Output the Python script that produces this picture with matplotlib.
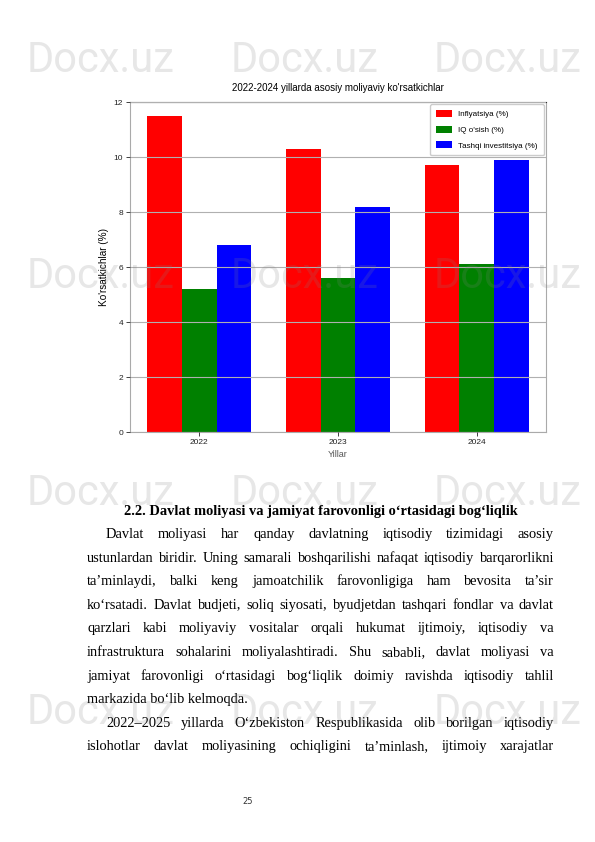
import matplotlib.pyplot as plt
import numpy as np

# --- data ---
years = ["2022", "2023", "2024"]
inflation = [11.5, 10.3, 9.7]
gdp_growth = [5.2, 5.6, 6.1]
foreign_inv = [6.8, 8.2, 9.9]
series_labels = ["Inflyatsiya (%)", "IQ o'sish (%)", "Tashqi investitsiya (%)"]
series_colors = ["red", "green", "blue"]
yticks = [0, 2, 4, 6, 8, 10, 12]

heading = "2.2. Davlat moliyasi va jamiyat farovonligi o‘rtasidagi bog‘liqlik"
body_lines = [
    ("Davlat moliyasi har qanday davlatning iqtisodiy tizimidagi asosiy", True, True),
    ("ustunlardan biridir. Uning samarali boshqarilishi nafaqat iqtisodiy barqarorlikni", False, True),
    ("ta’minlaydi, balki keng jamoatchilik farovonligiga ham bevosita ta’sir", False, True),
    ("ko‘rsatadi. Davlat budjeti, soliq siyosati, byudjetdan tashqari fondlar va davlat", False, True),
    ("qarzlari kabi moliyaviy vositalar orqali hukumat ijtimoiy, iqtisodiy va", False, True),
    ("infrastruktura sohalarini moliyalashtiradi. Shu sababli, davlat moliyasi va", False, True),
    ("jamiyat farovonligi o‘rtasidagi bog‘liqlik doimiy ravishda iqtisodiy tahlil", False, True),
    ("markazida bo‘lib kelmoqda.", False, False),
    ("2022–2025 yillarda O‘zbekiston Respublikasida olib borilgan iqtisodiy", True, True),
    ("islohotlar davlat moliyasining ochiqligini ta’minlash, ijtimoiy xarajatlar", False, True),
]
page_number = "25"

W, H = 595, 842
fig = plt.figure(figsize=(W / 100, H / 100), dpi=100)
sans = ["Liberation Sans", "DejaVu Sans"]

# --- chart ---
ax = fig.add_axes([130 / W, 1 - 432 / H, 416 / W, 330 / H])
x = np.arange(len(years))
bw = 0.25
for i, (vals, lab, col) in enumerate(zip([inflation, gdp_growth, foreign_inv], series_labels, series_colors)):
    ax.bar(x + (i - 1) * bw, vals, bw, color=col, label=lab)
ax.set_xlim(-0.5, 2.5)
ax.set_ylim(0, 12)
ax.set_xticks(x)
ax.set_xticklabels(years, fontsize=6, family=sans)
ax.set_yticks(yticks)
ax.set_yticklabels([str(v) for v in yticks], fontsize=6, family=sans)
ax.tick_params(length=3, width=0.6, colors="#222222", pad=2)
ax.yaxis.grid(True, color="#b0b0b0", lw=0.8)
ax.set_axisbelow(False)
for s in ax.spines.values():
    s.set_color("#aaaaaa")
ax.spines["top"].set_color("#333333")
ax.set_title("2022-2024 yillarda asosiy moliyaviy ko'rsatkichlar", fontsize=7, family=sans, pad=8)
ax.set_xlabel("Yillar", fontsize=6.5, family=sans, color="#555555", labelpad=3)
ax.set_ylabel("Ko'rsatkichlar (%)", fontsize=7.2, family=sans, labelpad=3)
ax.legend(loc="upper right", prop={"family": sans, "size": 5.8}, handlelength=2.0,
          handleheight=1.0, borderpad=0.7, labelspacing=0.9, handletextpad=0.8,
          framealpha=1, edgecolor="#cccccc", borderaxespad=0.3)

# --- page text ---
fig.canvas.draw()
rend = fig.canvas.get_renderer()


def text_width(s, **kw):
    t = fig.text(0, 0, s, **kw)
    w = t.get_window_extent(rend).width
    t.remove()
    return w


serif = "Liberation Serif"
left, right, indent = 87, 554, 106
ref_w = text_width(body_lines[1][0], family=serif, fontsize=10)
fs = 10 * (right - left) / ref_w * 0.985

fig.text(321 / W, 1 - 515 / H, heading, family=serif, fontsize=fs, weight="bold",
         ha="center", va="baseline")

y0, dy = 538, 23.6
for k, (line, ind, just) in enumerate(body_lines):
    y = 1 - (y0 + k * dy) / H
    x0 = indent if ind else left
    if not just:
        fig.text(x0 / W, y, line, family=serif, fontsize=fs, va="baseline")
        continue
    words = line.split(" ")
    widths = [text_width(w_, family=serif, fontsize=fs) for w_ in words]
    gap = (right - x0 - sum(widths)) / (len(words) - 1)
    cx = x0
    for w_, ww in zip(words, widths):
        fig.text(cx / W, y, w_, family=serif, fontsize=fs, va="baseline")
        cx += ww + gap

fig.text(248 / W, 1 - 804 / H, page_number, family="DejaVu Sans", fontsize=6,
         ha="center", va="baseline", color="#333333")

# --- watermark ---
for wy in [60, 276, 494, 712]:
    for wx in [101, 305, 508]:
        fig.text(wx / W, 1 - wy / H, "Docx.uz", family=["Roboto", "Liberation Sans"],
                 fontsize=30, ha="center", va="center",
                 color=(0.5, 0.5, 0.5), alpha=0.19)

fig.savefig("out.png", dpi=100)
